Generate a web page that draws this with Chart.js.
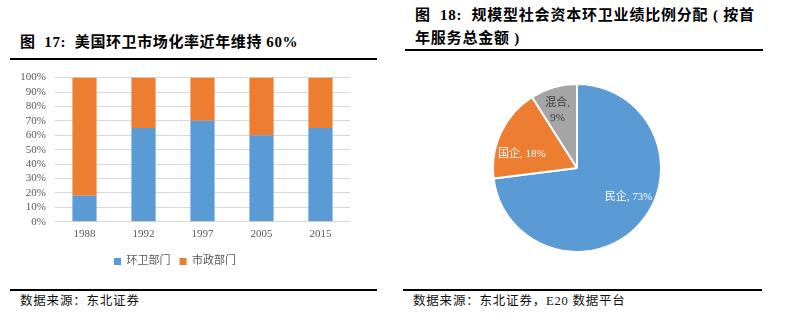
<!DOCTYPE html>
<html>
<head>
<meta charset="utf-8">
<script src="https://cdn.jsdelivr.net/npm/chart.js@4.4.0/dist/chart.umd.min.js"></script>
<style>
  html, body { margin: 0; padding: 0; background: #fff; }
  body { width: 790px; height: 326px; position: relative; overflow: hidden;
         font-family: "Liberation Serif", "Noto Sans CJK SC", serif; color: #000; }
  .title { position: absolute; font-size: 15px; font-weight: bold; line-height: 22px; white-space: pre; }
  .rule { position: absolute; height: 1.5px; background: #000; }
  .note { position: absolute; font-size: 12.5px; line-height: 16px; white-space: pre; letter-spacing: 0.8px; color: #111; }
  #barBox { position: absolute; left: 0; top: 62px; width: 380px; height: 215px; }
  #pieBox { position: absolute; left: 492px; top: 83px; width: 170px; height: 170px; }
</style>
</head>
<body>
<div class="title" style="left:20px; top:31px; letter-spacing:0.6px;">图  17:  美国环卫市场化率近年维持 60%</div>
<div class="rule" style="left:10px; top:58px; width:367px;"></div>

<div class="title" style="left:415px; top:4px; letter-spacing:0.8px;">图  18:  规模型社会资本环卫业绩比例分配 ( 按首</div>
<div class="title" style="left:415px; top:27px; letter-spacing:0.8px;">年服务总金额 )</div>
<div class="rule" style="left:405px; top:49px; width:358px;"></div>

<div id="barBox"><canvas id="bar"></canvas></div>
<div id="pieBox"><canvas id="pie"></canvas></div>

<div class="rule" style="left:10px; top:289px; width:367px;"></div>
<div class="note" style="left:20px; top:293px;">数据来源：东北证券</div>
<div class="rule" style="left:403px; top:289px; width:359px;"></div>
<div class="note" style="left:413px; top:293px;">数据来源：东北证券，E20 数据平台</div>

<script>
// 美国环卫市场化率（%）
const years = ['1988', '1992', '1997', '2005', '2015'];
const sanitationDept = [18, 65, 70, 60, 65];   // 环卫部门
const municipalDept = [82, 35, 30, 40, 35];    // 市政部门
const barSeries = ['环卫部门', '市政部门'];
const yTicks = [0, 10, 20, 30, 40, 50, 60, 70, 80, 90, 100];

// 规模型社会资本环卫业绩比例
const ownerTypes = ['民企', '国企', '混合'];
const ownerShares = [73, 18, 9];

const BLUE = '#5B9BD5', ORANGE = '#ED7D31', GREY = '#A5A5A5';
const serif = '"Liberation Serif", "Noto Sans CJK SC", serif';

new Chart(document.getElementById('bar'), {
  type: 'bar',
  data: {
    labels: years,
    datasets: [
      { label: barSeries[0], data: sanitationDept, backgroundColor: BLUE },
      { label: barSeries[1], data: municipalDept, backgroundColor: ORANGE }
    ]
  },
  options: {
    responsive: true,
    maintainAspectRatio: false,
    animation: false,
    layout: { padding: { top: 4, right: 30, left: 0, bottom: 0 } },
    datasets: { bar: { categoryPercentage: 1, barPercentage: 0.41 } },
    scales: {
      x: {
        stacked: true,
        grid: { display: false, drawTicks: false },
        border: { display: false },
        ticks: { color: '#595959', font: { family: serif, size: 11 }, padding: 6 }
      },
      y: {
        stacked: true,
        min: 0,
        max: 100,
        afterFit: (axis) => { axis.width = 55; },
        afterBuildTicks: (axis) => { axis.ticks = yTicks.map(v => ({ value: v })); },
        grid: { color: '#D9D9D9', drawTicks: false },
        border: { display: false },
        ticks: {
          autoSkip: false,
          color: '#595959',
          font: { family: serif, size: 11 },
          padding: 9,
          callback: (v) => v + '%'
        }
      }
    },
    plugins: {
      legend: {
        position: 'bottom',
        labels: {
          boxWidth: 7,
          boxHeight: 7,
          padding: 9,
          color: '#595959',
          font: { family: serif, size: 11 }
        }
      },
      tooltip: { enabled: false }
    }
  }
});

// 标签相对扇区中点的微调（像素）
const labelNudge = [[10, -8], [-5, 10], [-4, -5]];

// 扇区内的数据标签：名称, 百分比
const pieLabels = {
  id: 'pieLabels',
  afterDatasetsDraw(chart) {
    const ctx = chart.ctx;
    const meta = chart.getDatasetMeta(0);
    ctx.save();
    ctx.font = '11px ' + serif;
    ctx.textAlign = 'center';
    ctx.textBaseline = 'middle';
    meta.data.forEach((arc, i) => {
      const p = arc.getProps(['x', 'y', 'startAngle', 'endAngle', 'outerRadius'], true);
      const mid = (p.startAngle + p.endAngle) / 2;
      const r = p.outerRadius * 0.66;
      const cx = p.x + Math.cos(mid) * r + labelNudge[i][0];
      const cy = p.y + Math.sin(mid) * r + labelNudge[i][1];
      if (ownerShares[i] < 10) {
        ctx.fillStyle = '#404040';
        ctx.fillText(ownerTypes[i] + ',', cx, cy - 7);
        ctx.fillText(ownerShares[i] + '%', cx, cy + 8);
      } else {
        ctx.fillStyle = '#fff';
        ctx.fillText(ownerTypes[i] + ', ' + ownerShares[i] + '%', cx, cy);
      }
    });
    ctx.restore();
  }
};

new Chart(document.getElementById('pie'), {
  type: 'pie',
  data: {
    labels: ownerTypes,
    datasets: [{
      data: ownerShares,
      backgroundColor: [BLUE, ORANGE, GREY],
      borderColor: '#fff',
      borderWidth: 2
    }]
  },
  options: {
    responsive: true,
    maintainAspectRatio: false,
    animation: false,
    layout: { padding: 0 },
    plugins: { legend: { display: false }, tooltip: { enabled: false } }
  },
  plugins: [pieLabels]
});
</script>
</body>
</html>
